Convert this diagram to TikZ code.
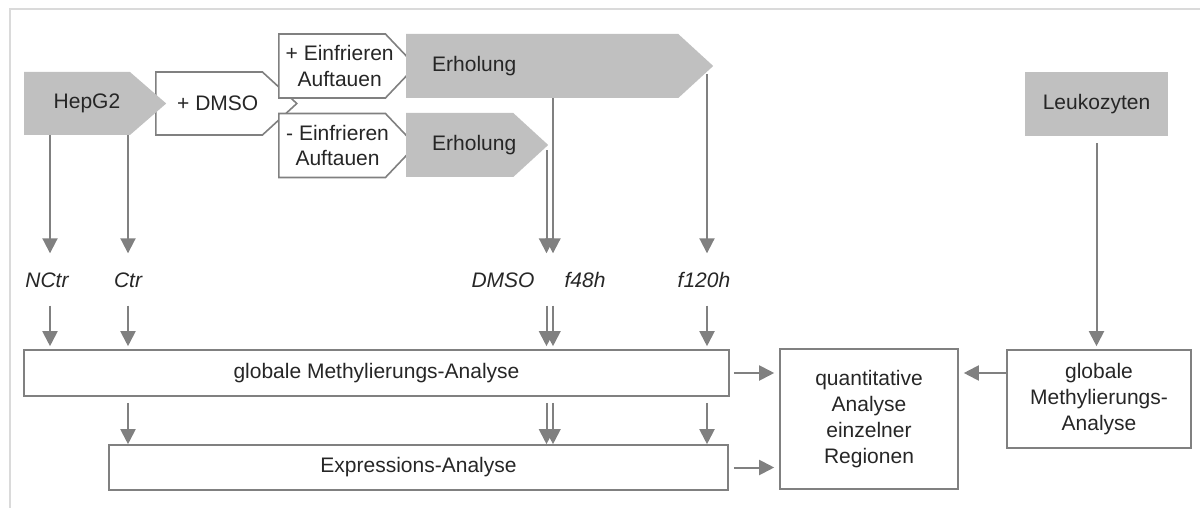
\documentclass[tikz,border=0pt]{standalone}
\usepackage{fontspec}
\setmainfont{Liberation Sans}
\usetikzlibrary{arrows.meta,shapes.symbols}

\definecolor{boxgray}{RGB}{192,192,192}
\definecolor{linegray}{RGB}{128,128,128}
\definecolor{framegray}{RGB}{218,218,218}
\definecolor{txtgray}{RGB}{38,38,38}

\begin{document}
\begin{tikzpicture}[
  x=1pt, y=-1pt,
  font=\fontsize{21}{25.8}\selectfont,
  every node/.style={align=center, text=txtgray},
  every label/.style={inner sep=0pt},
  cellbox/.style={fill=boxgray, minimum width=143pt, minimum height=64pt, inner sep=0pt},
  phase/.style={shape=signal, signal to=east, fill=boxgray, inner sep=0pt},
  treat/.style={phase, fill=white, draw=linegray, line width=1.6pt},
  analysis/.style={draw=linegray, line width=1.6pt, inner sep=0pt},
  samplelabel/.style={font=\fontsize{21}{25.8}\selectfont\itshape, text height=15pt, text depth=0pt, inner xsep=0pt, inner ysep=18.5pt},
  to/.style={-{Triangle[width=15pt,length=15pt]}, color=linegray, line width=2pt}]

  \useasboundingbox (0,0) rectangle (1200,508);
  \draw[framegray, line width=2pt] (10,508) -- (10,9) -- (1200,9);

  % Cells and treatment steps
  \node[treat, anchor=west, minimum width=141pt, minimum height=63pt, signal pointer angle=85,
        label={[anchor=west, xshift=22pt]west:+ DMSO}] (dmso) at (155,103.5) {};
  \node[phase, anchor=west, minimum width=142pt, minimum height=63pt, signal pointer angle=82,
        label={[anchor=west, xshift=29.5pt]west:HepG2}] (hep) at (24,103.5) {};
  \node[treat, anchor=west, minimum width=137pt, minimum height=64pt, signal pointer angle=93,
        label={[anchor=west, xshift=7.5pt]west:+ Einfrieren\\Auftauen}] (frzA) at (278,66) {};
  \node[treat, anchor=west, minimum width=137pt, minimum height=64pt, signal pointer angle=93,
        label={[anchor=west, xshift=8pt]west:- Einfrieren\\Auftauen}] (frzB) at (278,145.5) {};
  \node[phase, anchor=west, minimum width=307pt, minimum height=64pt, signal pointer angle=85,
        label={[anchor=west, xshift=26pt]west:Erholung}] (erhA) at (406,66) {};
  \node[phase, anchor=west, minimum width=142pt, minimum height=64pt, signal pointer angle=85,
        label={[anchor=west, xshift=26pt]west:Erholung}] (erhB) at (406,145) {};
  \node[cellbox] (leuk) at (1096.5,104) {Leukozyten};

  % Samples
  \node[samplelabel] (nctr) at (47,279.5) {NCtr};
  \node[samplelabel] (ctr) at (128,279.5) {Ctr};
  \node[samplelabel] (sdmso) at (503,279.5) {DMSO};
  \node[samplelabel] (f48) at (585,279.5) {f48h};
  \node[samplelabel] (f120) at (704,279.5) {f120h};

  % Analyses
  \node[analysis, minimum width=705pt, minimum height=46pt] (meth) at (376.5,373) {globale Methylierungs-Analyse};
  \node[analysis, minimum width=619pt, minimum height=45pt] (expr) at (418.5,467.5) {Expressions-Analyse};
  \node[analysis, minimum width=178pt, minimum height=140pt] (quant) at (869,419) {quantitative\\Analyse\\einzelner\\Regionen};
  \node[analysis, minimum width=184pt, minimum height=98pt] (methR) at (1099,399) {globale\\Methylierungs-\\Analyse};

  % Arrow columns
  \coordinate (c1) at (50,0);
  \coordinate (c2) at (128,0);
  \coordinate (c3) at (546.5,0);
  \coordinate (c4) at (553,0);
  \coordinate (c5) at (707,0);

  % Draw the arrows between the nodes
  \draw[to] (hep.south -| c1) -- (nctr.north -| c1);
  \draw[to] (hep.south -| c2) -- (ctr.north -| c2);
  \draw[to, shorten <=5.5pt] (erhB.east -| c3) -- (sdmso.north -| c3);
  \draw[to] (erhA.south -| c4) -- (f48.north -| c4);
  \draw[to, shorten <=8pt] (erhA.east -| c5) -- (f120.north -| c5);

  \draw[to, shorten >=3pt] (nctr.south -| c1) -- (meth.north -| c1);
  \draw[to, shorten >=3pt] (ctr.south -| c2) -- (meth.north -| c2);
  \draw[to, shorten >=3pt] (sdmso.south -| c3) -- (meth.north -| c3);
  \draw[to, shorten >=3pt] (f48.south -| c4) -- (meth.north -| c4);
  \draw[to, shorten >=3pt] (f120.south -| c5) -- (meth.north -| c5);

  \draw[to, shorten <=6pt] (meth.south -| c2) -- (expr.north -| c2);
  \draw[to, shorten <=6pt] (meth.south -| c3) -- (expr.north -| c3);
  \draw[to, shorten <=6pt] (meth.south -| c4) -- (expr.north -| c4);
  \draw[to, shorten <=6pt] (meth.south -| c5) -- (expr.north -| c5);

  \draw[to, shorten <=4pt, shorten >=5pt] (meth.east) -- (meth.east -| quant.west);
  \draw[to, shorten <=5pt, shorten >=5pt] (expr.east) -- (expr.east -| quant.west);
  \draw[to, shorten >=5pt] (methR.west |- meth.east) -- (quant.east |- meth.east);
  \draw[to, shorten <=7pt, shorten >=3pt] (leuk.south) -- (leuk.south |- methR.north);

\end{tikzpicture}
\end{document}
